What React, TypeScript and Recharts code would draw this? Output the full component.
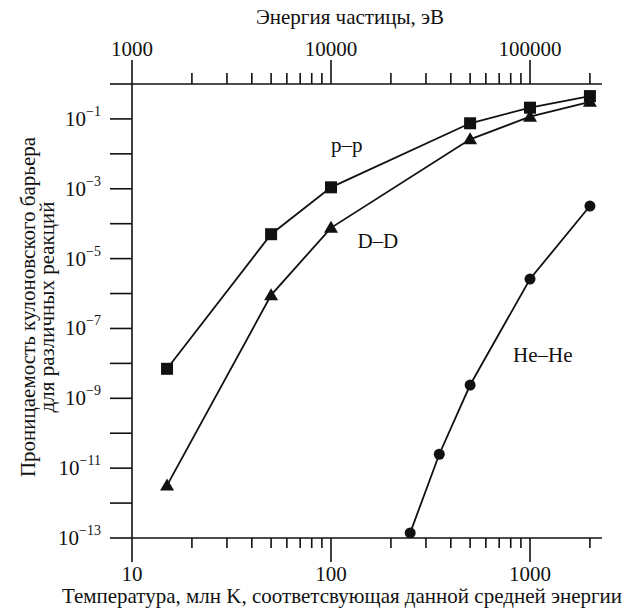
import React from 'react';
import {
  Label,
  ReferenceDot,
  Scatter,
  ScatterChart,
  XAxis,
  YAxis,
} from 'recharts';

// temperature, million K
const ppTemps = [15, 50, 100, 500, 1000, 2000];
const ppValues = [7e-9, 5e-5, 1.1e-3, 0.075, 0.21, 0.45];

const ddTemps = [15, 50, 100, 500, 1000, 2000];
const ddValues = [3.2e-12, 9e-7, 7.6e-5, 0.026, 0.116, 0.31];

const heTemps = [250, 350, 500, 1000, 2000];
const heValues = [1.4e-13, 2.5e-11, 2.4e-9, 2.6e-6, 3.2e-4];

const tempTicks = [
  10, 20, 30, 40, 50, 60, 70, 80, 90,
  100, 200, 300, 400, 500, 600, 700, 800, 900,
  1000, 2000,
];
// top scale: particle energy in eV, 100 eV per million K on this plot
const energyPerTemp = 100;
const yTicks = [
  1e-13, 1e-12, 1e-11, 1e-10, 1e-9, 1e-8, 1e-7,
  1e-6, 1e-5, 1e-4, 1e-3, 1e-2, 1e-1, 1,
];

const seriesLabels = [
  { text: 'p–p', t: 120, p: 0.018 },
  { text: 'D–D', t: 172, p: 3.4e-5 },
  { text: 'He–He', t: 1160, p: 1.8e-8 },
];

const toPoints = (temps: number[], values: number[]) =>
  temps.map((t, i) => ({ t, p: values[i] }));

const FONT = "'Liberation Serif', 'DejaVu Serif', serif";
const INK = '#111';
const FS = 21;

const isDecade = (v: number) => {
  const l = Math.log10(v);
  return Math.abs(l - Math.round(l)) < 1e-6;
};

const BottomTick = ({ x, y, payload }: any) => {
  const major = isDecade(payload.value);
  return (
    <g>
      <line x1={x} y1={y} x2={x} y2={y + (major ? 24 : 10)} stroke={INK} strokeWidth={1.6} />
      {major && (
        <text x={x} y={y + 43} textAnchor="middle" fontSize={FS} fontFamily={FONT} fill={INK}>
          {payload.value}
        </text>
      )}
    </g>
  );
};

const TopTick = ({ x, y, payload }: any) => {
  const major = isDecade(payload.value);
  return (
    <g>
      <line x1={x} y1={y} x2={x} y2={y - (major ? 24 : 11)} stroke={INK} strokeWidth={1.6} />
      {major && (
        <text x={x} y={y - 28} textAnchor="middle" fontSize={FS} fontFamily={FONT} fill={INK}>
          {payload.value * energyPerTemp}
        </text>
      )}
    </g>
  );
};

const LeftTick = ({ x, y, payload }: any) => {
  const exp = Math.round(Math.log10(payload.value));
  const labelled = exp % 2 !== 0;
  return (
    <g>
      <line x1={x - 22} y1={y} x2={x} y2={y} stroke={INK} strokeWidth={1.6} />
      {labelled && (
        <text x={x - 31} y={y + 7} textAnchor="end" fontSize={FS} fontFamily={FONT} fill={INK}>
          10
          <tspan dy={-10} fontSize={14}>{`−${-exp}`}</tspan>
        </text>
      )}
    </g>
  );
};

const SquareMark = ({ cx, cy }: any) => (
  <rect x={cx - 6} y={cy - 6} width={12} height={12} fill={INK} />
);
const TriangleMark = ({ cx, cy }: any) => (
  <polygon points={`${cx},${cy - 7} ${cx - 7},${cy + 5} ${cx + 7},${cy + 5}`} fill={INK} />
);
const CircleMark = ({ cx, cy }: any) => <circle cx={cx} cy={cy} r={5.5} fill={INK} />;
const NoMark = () => <g />;

export default function App() {
  const line = { stroke: INK, strokeWidth: 1.8 };
  const ppData = toPoints(ppTemps, ppValues);
  return (
    <div style={{ position: 'absolute', left: 0, top: 0, background: '#fff' }}>
      <ScatterChart width={627} height={612} margin={{ top: 0, right: 25, bottom: 0, left: 0 }}>
        <XAxis
          xAxisId="bottom"
          orientation="bottom"
          dataKey="t"
          type="number"
          scale="log"
          domain={[10, 2300]}
          allowDataOverflow
          ticks={tempTicks}
          interval={0}
          height={74}
          tickSize={0}
          tickMargin={0}
          tickLine={false}
          tick={<BottomTick />}
          axisLine={{ stroke: INK, strokeWidth: 1.6 }}
        >
          <Label
            content={() => (
              <text x={342} y={603} textAnchor="middle" fontSize={FS} fontFamily={FONT} fill={INK}>
                Температура, млн K, соответсвующая данной средней энергии
              </text>
            )}
          />
        </XAxis>
        <XAxis
          xAxisId="top"
          orientation="top"
          dataKey="t"
          type="number"
          scale="log"
          domain={[10, 2300]}
          allowDataOverflow
          ticks={tempTicks}
          interval={0}
          height={84}
          tickSize={0}
          tickMargin={0}
          tickLine={false}
          tick={<TopTick />}
          axisLine={{ stroke: INK, strokeWidth: 1.6 }}
        >
          <Label
            content={() => (
              <text x={350} y={24} textAnchor="middle" fontSize={FS} fontFamily={FONT} fill={INK}>
                Энергия частицы, эВ
              </text>
            )}
          />
        </XAxis>
        <YAxis
          yAxisId="left"
          dataKey="p"
          type="number"
          scale="log"
          domain={[1e-13, 1]}
          allowDataOverflow
          ticks={yTicks}
          interval={0}
          width={132}
          tickSize={0}
          tickMargin={0}
          tickLine={false}
          tick={<LeftTick />}
          axisLine={{ stroke: INK, strokeWidth: 1.6 }}
        >
          <Label
            content={() => (
              <text
                transform="translate(35,307) rotate(-90)"
                textAnchor="middle"
                fontSize={FS}
                fontFamily={FONT}
                fill={INK}
              >
                <tspan x={0} y={0}>Проницаемость кулоновского барьера</tspan>
                <tspan x={0} y={19}>для различных реакций</tspan>
              </text>
            )}
          />
        </YAxis>
        {/* invisible copy so the top (energy) axis gets drawn */}
        <Scatter
          data={ppData}
          xAxisId="top"
          yAxisId="left"
          shape={<NoMark />}
          legendType="none"
          isAnimationActive={false}
        />
        <Scatter
          name="p-p"
          data={ppData}
          xAxisId="bottom"
          yAxisId="left"
          line={line}
          shape={<SquareMark />}
          isAnimationActive={false}
        />
        <Scatter
          name="D-D"
          data={toPoints(ddTemps, ddValues)}
          xAxisId="bottom"
          yAxisId="left"
          line={line}
          shape={<TriangleMark />}
          isAnimationActive={false}
        />
        <Scatter
          name="He-He"
          data={toPoints(heTemps, heValues)}
          xAxisId="bottom"
          yAxisId="left"
          line={line}
          shape={<CircleMark />}
          isAnimationActive={false}
        />
        {seriesLabels.map((s) => (
          <ReferenceDot
            key={s.text}
            x={s.t}
            y={s.p}
            xAxisId="bottom"
            yAxisId="left"
            r={0}
            stroke="none"
            fill="none"
            label={{ value: s.text, position: 'center', fontSize: FS, fontFamily: FONT, fill: INK }}
          />
        ))}
      </ScatterChart>
    </div>
  );
}
